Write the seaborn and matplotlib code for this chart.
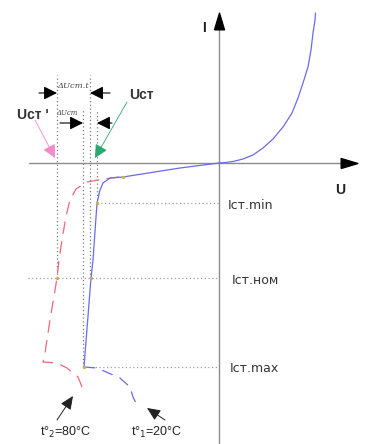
import matplotlib
matplotlib.use("Agg")
import matplotlib.pyplot as plt
from matplotlib.path import Path
import seaborn as sns
import pandas as pd

sns.set_theme(style="white")
plt.rcParams['font.family'] = ['Liberation Sans', 'DejaVu Sans']

# ---- data (U in arbitrary volts, I in arbitrary mA) ----
blue_u = [-13.5, -12.8, -12.6, -12.2, -11.9, -11.6, -10.9, -9.6, -3.9, 0.0,
          0.7, 1.4, 2.4, 3.4, 4.4, 5.4, 6.4, 7.3, 7.9, 8.4, 8.9, 9.2, 9.4, 9.6, 9.65]
blue_i = [-20.4, -11.5, -9.7, -4.0, -2.7, -2.0, -1.5, -1.4, -0.5, 0.0,
          0.05, 0.15, 0.4, 0.8, 1.5, 2.4, 3.6, 5.0, 6.5, 8.0, 9.6, 11.3, 13.0, 14.3, 15.0]
blue_tail_u = [-13.5, -12.2, -9.9, -8.9, -8.6, -8.1]
blue_tail_i = [-20.4, -20.5, -21.5, -22.4, -23.4, -24.4]
red_u = [-10.0, -11.5, -13.2, -14.3, -14.9, -15.3, -15.7, -16.0, -16.2, -16.9, -17.4, -17.6,
         -16.2, -15.2, -14.1, -13.7, -13.6]
red_i = [-1.4, -1.6, -1.9, -2.6, -3.7, -5.3, -7.7, -9.7, -11.5, -15.7, -19.0, -19.9,
         -20.0, -20.5, -21.4, -22.4, -23.0]
dot_u = [-9.6, -12.2, -16.2, -12.8, -13.5]
dot_i = [-1.4, -4.0, -11.5, -11.5, -20.4]

i_levels = [-4.0, -11.5, -20.4]
i_labels = ["Iст.min", "Iст.ном", "Iст.max"]
i_level_start_u = [-12.2, -19.1, -13.5]

u_marks = [-16.2, -13.6, -12.9, -12.2]
u_mark_top = [8.8, 5.3, 8.8, 5.3]
u_mark_bottom = [-11.5, -20.4, -11.5, -4.0]

t_labels = ["t°$_2$=80°C", "t°$_1$=20°C"]

# ---- figure ----
fig = plt.figure(figsize=(3.67, 4.44), dpi=100)
ax = fig.add_axes([0, 0, 1, 1])
ax.set_xlim(-21.9, 14.8)
ax.set_ylim(-28.1, 16.3)
ax.axis("off")

axis_col = "#8c8c8c"
dot_col = "#a0a0a0"
blue = "#6a6af0"
red = "#f06878"

# axes with arrows
ax.plot([-19.0, 13.2], [0, 0], color=axis_col, lw=1.0, zorder=1)
ax.plot([0, 0], [-28.1, 14.5], color=axis_col, lw=1.0, zorder=1)
right_tri = Path([(-1, -0.6), (1, 0), (-1, 0.6), (-1, -0.6)])
up_tri = Path([(-0.6, -1), (0, 1), (0.6, -1), (-0.6, -1)])
ax.plot([13.0], [0], marker=right_tri, ms=12, color="black", zorder=5)
ax.plot([0], [14.2], marker=up_tri, ms=12, color="black", zorder=5)

# dotted guides
for lvl, u0 in zip(i_levels, i_level_start_u):
    ax.plot([u0, 0], [lvl, lvl], color=dot_col, lw=0.9, ls=(0, (1, 2)), zorder=1)
for u, t, b in zip(u_marks, u_mark_top, u_mark_bottom):
    ax.plot([u, u], [b, t], color="#7a7a7a", lw=0.9, ls=(0, (1, 2)), zorder=1)

# curves
sns.lineplot(x=blue_u, y=blue_i, sort=False, estimator=None, color=blue, lw=0.9, ax=ax, zorder=3)
sns.lineplot(x=blue_tail_u, y=blue_tail_i, sort=False, estimator=None, color=blue, lw=0.9,
             ax=ax, zorder=3, linestyle=(0, (9, 6)))
sns.lineplot(x=red_u, y=red_i, sort=False, estimator=None, color=red, lw=0.9,
             ax=ax, zorder=2, linestyle=(0, (10, 6)))
ax.scatter(dot_u, dot_i, s=6, color="#c8b44a", zorder=4, linewidths=0)

# level labels
for lvl, lab, dx in zip(i_levels, i_labels, [0.9, 1.3, 1.1]):
    ax.text(dx, lvl - 0.2, lab, fontsize=9, family="DejaVu Sans", color="#333333",
            ha="left", va="center")

ax.text(-1.5, 13.5, "I", fontsize=10, fontweight="bold", color="#222222", ha="center", va="center")
ax.text(12.1, -2.7, "U", fontsize=10, fontweight="bold", color="#222222", ha="center", va="center")

# delta U annotations
hd = dict(arrowstyle="-|>,head_length=0.8,head_width=0.4", color="black", lw=0.8,
          mutation_scale=10, shrinkA=0, shrinkB=0)
ax.annotate("", xy=(-16.2, 7.0), xytext=(-18.0, 7.0), arrowprops=hd)
ax.annotate("", xy=(-12.9, 7.0), xytext=(-10.9, 7.0), arrowprops=hd)
ax.annotate("", xy=(-13.6, 4.0), xytext=(-15.9, 4.0), arrowprops=hd)
ax.annotate("", xy=(-12.2, 4.0), xytext=(-10.7, 4.0), arrowprops=hd)
ax.text(-14.6, 7.7, "ΔUст.t", fontsize=6, family="DejaVu Serif", style="italic",
        color="#444444", ha="center", va="center")
ax.text(-15.2, 5.0, "ΔUст", fontsize=5, family="DejaVu Serif", style="italic",
        color="#444444", ha="center", va="center")

# Uст labels and colored arrows
ax.text(-18.6, 4.8, "Uст '", fontsize=10, fontweight="bold", color="#333333", ha="center", va="center")
ax.text(-7.8, 6.8, "Uст", fontsize=10, fontweight="bold", color="#333333", ha="center", va="center")
ax.annotate("", xy=(-16.4, 0.5), xytext=(-18.4, 4.3),
            arrowprops=dict(arrowstyle="-|>,head_length=0.9,head_width=0.45", color="#f48ac8",
                            lw=0.6, mutation_scale=9, shrinkA=0, shrinkB=0))
ax.annotate("", xy=(-12.4, 0.5), xytext=(-9.2, 6.1),
            arrowprops=dict(arrowstyle="-|>,head_length=0.9,head_width=0.45", color="#2aa870",
                            lw=0.6, mutation_scale=9, shrinkA=0, shrinkB=0))

# temperature labels
bd = dict(arrowstyle="-|>,head_length=0.9,head_width=0.4", color="#222222", lw=0.7,
          mutation_scale=9, shrinkA=0, shrinkB=0)
ax.annotate("", xy=(-14.6, -23.3), xytext=(-16.2, -25.7), arrowprops=bd)
ax.annotate("", xy=(-7.2, -24.5), xytext=(-5.4, -25.7), arrowprops=bd)
ax.text(-15.3, -26.9, t_labels[0], fontsize=9, color="#222222", ha="center", va="center")
ax.text(-6.2, -26.9, t_labels[1], fontsize=9, color="#222222", ha="center", va="center")

fig.savefig("out.png", dpi=100, facecolor="white")
